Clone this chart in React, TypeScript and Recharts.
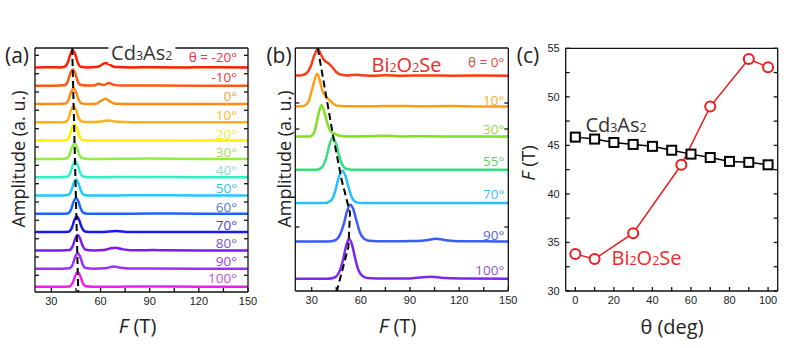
import React from 'react';
import { LineChart, Line, XAxis, YAxis, ReferenceDot } from 'recharts';

const SANS = '"Open Sans", "Noto Sans", sans-serif';
const ARIAL = '"Liberation Sans", Arial, sans-serif';

// ---- panel (a): Cd3As2 FFT spectra, [F (T), amplitude] per angle ----
const cdAngles = ['θ = -20°', '-10°', '0°', '10°', '20°', '30°', '40°', '50°', '60°', '70°', '80°', '90°', '100°'];
const cdOffsets = [22.44, 20.61, 18.78, 16.95, 15.12, 13.29, 11.46, 9.63, 7.8, 5.97, 4.14, 2.31, 0.5];
const cdColors = ['#ff1e00', '#ff5a14', '#ff8a14', '#ffb014', '#fff000', '#8fee44', '#2ff0c0', '#22c8ff', '#1a66ff', '#1818f0', '#7a1cf0', '#9b30ff', '#ee1eee'];
const cdLabelColors = ['#ee3344', '#ee3a3a', '#ffa033', '#ffbb22', '#eeee33', '#a8dd66', '#88ddcc', '#33c4ee', '#5577cc', '#4444cc', '#7755cc', '#9944dd', '#bb55cc'];
const cdCurves: number[][][] = [
  [[20, 0.02], [30, 0.03], [35, 0.02], [38, 0.08], [40, 0.5], [41.5, 1.3], [43, 1.73], [44.5, 1.35], [46, 0.55], [48, 0.08], [52, 0.02], [57, 0.05], [60, 0.2], [63, 0.47], [66, 0.25], [69, 0.05], [80, 0.02], [90, 0.04], [110, 0.02], [130, 0.03], [150, 0.02]],
  [[20, 0.02], [32, 0.02], [38, 0.06], [40, 0.45], [41.5, 1.25], [43, 1.65], [44.5, 1.3], [46, 0.5], [48, 0.08], [52, 0.03], [56, 0.05], [59, 0.22], [62, 0.08], [65, 0.3], [68, 0.1], [72, 0.03], [90, 0.03], [120, 0.02], [150, 0.02]],
  [[20, 0.02], [34, 0.02], [38.5, 0.06], [40.5, 0.45], [42, 1.2], [43.5, 1.6], [45, 1.25], [46.5, 0.5], [48.5, 0.08], [52, 0.02], [57, 0.05], [60, 0.3], [63, 0.55], [66, 0.25], [69, 0.05], [80, 0.02], [100, 0.03], [150, 0.02]],
  [[20, 0.02], [34, 0.02], [38.5, 0.06], [40.5, 0.45], [42, 1.25], [43.5, 1.65], [45, 1.3], [46.5, 0.5], [48.5, 0.1], [53, 0.04], [60, 0.1], [65, 0.2], [70, 0.08], [80, 0.03], [100, 0.02], [150, 0.02]],
  [[20, 0.02], [35, 0.02], [39, 0.06], [41, 0.45], [42.5, 1.25], [44, 1.65], [45.5, 1.3], [47, 0.5], [49, 0.08], [53, 0.02], [70, 0.03], [90, 0.04], [120, 0.02], [150, 0.02]],
  [[20, 0.02], [35, 0.02], [39, 0.06], [41, 0.4], [42.5, 1.15], [44, 1.55], [45.5, 1.2], [47, 0.45], [49, 0.08], [53, 0.02], [70, 0.03], [90, 0.06], [120, 0.02], [150, 0.02]],
  [[20, 0.02], [35, 0.02], [39.5, 0.06], [41.5, 0.45], [43, 1.2], [44.5, 1.62], [46, 1.25], [47.5, 0.5], [49.5, 0.08], [54, 0.02], [70, 0.03], [90, 0.05], [120, 0.02], [150, 0.02]],
  [[20, 0.02], [36, 0.02], [40, 0.06], [42, 0.45], [43.5, 1.2], [45, 1.62], [46.5, 1.25], [48, 0.5], [50, 0.08], [54, 0.02], [70, 0.03], [90, 0.05], [120, 0.02], [150, 0.02]],
  [[20, 0.02], [36, 0.02], [40, 0.06], [42, 0.45], [43.5, 1.2], [45, 1.6], [46.5, 1.25], [48, 0.5], [50, 0.08], [54, 0.02], [70, 0.02], [90, 0.05], [120, 0.02], [150, 0.02]],
  [[20, 0.02], [36, 0.02], [40.5, 0.06], [42.5, 0.45], [44, 1.2], [45.5, 1.58], [47, 1.2], [48.5, 0.5], [50.5, 0.08], [55, 0.02], [62, 0.04], [70, 0.12], [76, 0.03], [90, 0.04], [120, 0.02], [150, 0.02]],
  [[20, 0.02], [36, 0.02], [41, 0.06], [43, 0.45], [44.5, 1.15], [46, 1.55], [47.5, 1.2], [49, 0.5], [51, 0.08], [56, 0.02], [62, 0.06], [66, 0.22], [69, 0.28], [73, 0.15], [78, 0.04], [85, 0.03], [92, 0.06], [100, 0.03], [120, 0.02], [150, 0.02]],
  [[20, 0.02], [36, 0.02], [41, 0.06], [43, 0.45], [44.5, 1.2], [46, 1.6], [47.5, 1.25], [49, 0.5], [51, 0.08], [56, 0.02], [63, 0.06], [68, 0.25], [72, 0.12], [77, 0.03], [92, 0.04], [120, 0.02], [150, 0.02]],
  [[20, 0.02], [36, 0.02], [41, 0.06], [43, 0.42], [44.5, 1.1], [46, 1.5], [47.5, 1.15], [49, 0.45], [51, 0.07], [56, 0.02], [70, 0.03], [92, 0.05], [120, 0.02], [150, 0.02]],
];
const cdDash = [[42.7, 24.4], [46.4, 0]];

// ---- panel (b): Bi2O2Se FFT spectra ----
const biAngles = ['θ =  0°', '10°', '30°', '55°', '70°', '90°', '100°'];
const biOffsets = [21.5, 18.43, 15.43, 12.1, 8.77, 4.93, 1.2];
const biColors = ['#ff3a14', '#ff9e14', '#80e020', '#33e07a', '#26bfff', '#3a5cff', '#7a28f0'];
const biLabelColors = ['#ee4444', '#ffaa33', '#99dd33', '#66cc66', '#44bbee', '#5566cc', '#8855cc'];
const biCurves: number[][][] = [
  [[20, 0.05], [24, 0.08], [27, 0.3], [29.5, 1.0], [31.5, 2.0], [33.8, 2.7], [35.5, 2.2], [37.5, 1.6], [40, 1.3], [42.5, 0.9], [45, 0.4], [48, 0.12], [52, 0.06], [58, 0.12], [63, 0.04], [68, 0.02], [75, 0.08], [85, 0.03], [100, 0.05], [115, 0.03], [130, 0.04], [150, 0.02]],
  [[20, 0.03], [25, 0.08], [28, 0.5], [30.5, 1.9], [33.3, 3.3], [35, 2.6], [36.5, 1.6], [38.5, 1.05], [41, 0.65], [43.5, 0.25], [47, 0.06], [55, 0.04], [70, 0.05], [80, 0.08], [95, 0.04], [115, 0.06], [130, 0.03], [150, 0.02]],
  [[20, 0.02], [29, 0.03], [31.5, 0.4], [33.5, 1.8], [36, 3.17], [38, 2.3], [40, 1.1], [42, 0.45], [44, 0.3], [47, 0.1], [52, 0.03], [65, 0.04], [73, 0.1], [85, 0.03], [100, 0.04], [120, 0.02], [150, 0.02]],
  [[20, 0.02], [33, 0.02], [36.5, 0.3], [39, 1.3], [41, 2.6], [42.5, 3.17], [44.5, 2.8], [46.5, 1.6], [48.5, 0.6], [51, 0.12], [55, 0.02], [80, 0.03], [110, 0.02], [150, 0.02]],
  [[20, 0.02], [38, 0.02], [42, 0.3], [44.5, 1.3], [46.5, 2.6], [48.5, 3.26], [50.5, 2.8], [52.5, 1.6], [54.5, 0.6], [57, 0.12], [61, 0.02], [90, 0.02], [150, 0.02]],
  [[20, 0.02], [40, 0.03], [44, 0.12], [47, 0.6], [49.5, 1.7], [51.5, 3.0], [53.5, 3.7], [55.5, 3.2], [57.5, 2.0], [59.5, 0.9], [62, 0.3], [65, 0.1], [75, 0.05], [90, 0.06], [100, 0.15], [106, 0.3], [112, 0.15], [120, 0.05], [135, 0.04], [150, 0.02]],
  [[20, 0.02], [40, 0.03], [44, 0.15], [46.5, 0.6], [49, 1.8], [51, 3.3], [52.8, 4.0], [54.5, 3.5], [56.5, 2.1], [58.5, 0.9], [61, 0.3], [64, 0.1], [75, 0.04], [90, 0.06], [103, 0.22], [112, 0.1], [125, 0.05], [150, 0.03]],
];
const biDash = [[33.7, 24.3], [43.2, 15.4], [48.3, 11.1], [53.4, 7.8], [52.4, 4.4], [45.4, 0]];

// ---- panel (c): F vs theta ----
const cdTheta = [0, 10, 20, 30, 40, 50, 60, 70, 80, 90, 100];
const cdF = [45.85, 45.65, 45.3, 45.1, 44.9, 44.5, 44.1, 43.75, 43.35, 43.25, 43.0];
const biTheta = [0, 10, 30, 55, 70, 90, 100];
const biF = [33.8, 33.3, 35.95, 43.0, 49.0, 53.9, 53.05];

const fTicks = [30, 45, 60, 75, 90, 105, 120, 135, 150];
const fLabels = [30, 60, 90, 120, 150];
const thetaTicks = [0, 10, 20, 30, 40, 50, 60, 70, 80, 90, 100];
const FTicks = [30, 32.5, 35, 37.5, 40, 42.5, 45, 47.5, 50, 52.5, 55];

const tickStyle = { fill: '#222', fontSize: 11, fontFamily: ARIAL };
const frame = { stroke: '#111', strokeWidth: 1.3 };
const blank = () => '';

const Sub = ({ children }: any) => <span style={{ fontSize: '0.62em', verticalAlign: '-0.04em' }}>{children}</span>;
const CdAs = () => <>Cd<Sub>3</Sub>As<Sub>2</Sub></>;
const BiOSe = () => <>Bi<Sub>2</Sub>O<Sub>2</Sub>Se</>;

function Txt({ x, y, size, color = '#222', rotate, align = 'center', bg, children }: any) {
  const tx = align === 'right' ? '-100%' : '-50%';
  return (
    <div
      style={{
        position: 'absolute', left: x, top: y, fontSize: size, color, fontFamily: SANS,
        lineHeight: 1, whiteSpace: 'nowrap', background: bg, padding: bg ? '1px 3px' : 0,
        transform: `translate(${tx}, -50%)${rotate ? ` rotate(${rotate}deg)` : ''}`,
      }}
    >
      {children}
    </div>
  );
}

// plot box: left/top/right/bottom in chart pixels; axes take fixed room so margins are simple
function Waterfall({ curves, offsets, colors, labels, labelColors, lifts, dash, yMax, yTicks, box, labelGap }: any) {
  const series = curves.map((pts: number[][], i: number) => pts.map(([f, a]) => ({ f, y: offsets[i] + a })));
  const dashData = dash.map(([f, y]: number[]) => ({ f, y }));
  const margin = { top: box.top - 10, right: 260 - box.right - 10, bottom: 348 - box.bottom - 20, left: box.left - 20 };
  return (
    <LineChart width={260} height={348} margin={margin}>
      <XAxis dataKey="f" type="number" domain={[20, 150]} ticks={fTicks} allowDataOverflow
        tickFormatter={(v) => (fLabels.includes(v) ? String(v) : '')}
        tick={tickStyle} tickSize={-4} tickMargin={9} axisLine={frame} tickLine={frame} height={20} />
      <XAxis xAxisId="top" orientation="top" type="number" domain={[20, 150]} ticks={fLabels} allowDataOverflow
        tickFormatter={blank} tick={tickStyle} tickSize={-4} axisLine={frame} tickLine={frame} height={10} />
      <YAxis type="number" domain={[0, yMax]} ticks={yTicks} allowDataOverflow tickFormatter={blank} tick={tickStyle}
        tickSize={-4} axisLine={frame} tickLine={frame} width={20} />
      <YAxis yAxisId="right" orientation="right" type="number" domain={[0, yMax]} ticks={yTicks} allowDataOverflow
        tickFormatter={blank} tick={tickStyle} tickSize={-4} axisLine={frame} tickLine={frame} width={10} />
      {series.map((d: any, i: number) => (
        <Line key={i} data={d} dataKey="y" type="monotone" stroke={colors[i]} strokeWidth={2.5}
          dot={false} isAnimationActive={false} />
      ))}
      <Line data={dashData} dataKey="y" type="linear" stroke="#000" strokeWidth={2}
        strokeDasharray="7 4" dot={false} isAnimationActive={false} />
      {labels.map((t: string, i: number) => (
        <ReferenceDot key={t} x={150} y={offsets[i] + lifts[i]} r={0} fill="none" stroke="none"
          label={{ value: t, position: 'left', offset: labelGap, fill: labelColors[i], fontSize: 13.5, fontFamily: SANS }} />
      ))}
    </LineChart>
  );
}

const squareDot = (p: any) => (
  <rect key={`sq-${p.index}`} x={p.cx - 4.5} y={p.cy - 4.5} width={9} height={9} fill="#fff" stroke="#000" strokeWidth={2} />
);

export default function App() {
  const cdLine = cdTheta.map((t, i) => ({ t, F: cdF[i] }));
  const biLine = biTheta.map((t, i) => ({ t, F: biF[i] }));
  const cdYTicks = [1.67, 3.5, 5.33, 7.17, 9.0, 10.83, 12.67, 14.5, 16.33, 18.17, 20.0, 21.83, 23.67];
  const biYTicks = [6.4, 16.2, 18.8];

  return (
    <div style={{ position: 'absolute', left: 0, top: 0, width: 789, height: 348, background: '#fff', overflow: 'hidden' }}>
      <div style={{ position: 'absolute', left: 0, top: 0 }}>
        <Waterfall curves={cdCurves} offsets={cdOffsets} colors={cdColors} labels={cdAngles} labelColors={cdLabelColors}
          lifts={[1.06, 0.85, 0.75, 0.72, 0.68, 0.68, 0.7, 0.72, 0.72, 0.72, 0.72, 0.72, 0.84]}
          dash={cdDash} yMax={24.4} yTicks={cdYTicks} box={{ left: 35, top: 48, right: 248, bottom: 292 }} labelGap={11} />
      </div>
      <div style={{ position: 'absolute', left: 260, top: 0 }}>
        <Waterfall curves={biCurves} offsets={biOffsets} colors={biColors} labels={biAngles} labelColors={biLabelColors}
          lifts={[1.37, 0.67, 0.74, 0.83, 0.9, 0.67, 0.9]}
          dash={biDash} yMax={24.3} yTicks={biYTicks} box={{ left: 35.3, top: 48, right: 248.3, bottom: 291 }} labelGap={4} />
      </div>
      <div style={{ position: 'absolute', left: 520, top: 0 }}>
        <LineChart width={269} height={348} margin={{ top: 38.3, right: 1.3, bottom: 37, left: 15.7 }}>
          <XAxis dataKey="t" type="number" domain={[-5, 105]} ticks={thetaTicks} allowDataOverflow
            tickFormatter={(v) => (v % 20 === 0 ? String(v) : '')}
            tick={tickStyle} tickSize={-4} tickMargin={9} axisLine={frame} tickLine={frame} height={20} />
          <XAxis xAxisId="top" orientation="top" type="number" domain={[-5, 105]} ticks={thetaTicks} allowDataOverflow
            tickFormatter={blank} tick={tickStyle} tickSize={-4} axisLine={frame} tickLine={frame} height={10} />
          <YAxis type="number" domain={[30, 55]} ticks={FTicks} allowDataOverflow
            tickFormatter={(v) => (v % 5 === 0 ? String(v) : '')}
            tick={tickStyle} tickSize={-4} tickMargin={10} axisLine={frame} tickLine={frame} width={30} />
          <YAxis yAxisId="right" orientation="right" type="number" domain={[30, 55]} ticks={FTicks} allowDataOverflow
            tickFormatter={blank} tick={tickStyle} tickSize={-4} axisLine={frame} tickLine={frame} width={10} />
          <Line data={cdLine} dataKey="F" type="linear" stroke="#000" strokeWidth={1.5}
            dot={squareDot} isAnimationActive={false} />
          <Line data={biLine} dataKey="F" type="linear" stroke="#ee1c1c" strokeWidth={1.5}
            dot={{ r: 5, fill: '#fff', stroke: '#ee1c1c', strokeWidth: 2 }} isAnimationActive={false} />
        </LineChart>
      </div>

      <Txt x={17} y={55} size={21}>(a)</Txt>
      <Txt x={279} y={55} size={21}>(b)</Txt>
      <Txt x={528} y={55} size={21}>(c)</Txt>

      <Txt x={17.5} y={159} size={18} rotate={-90}>Amplitude (a. u.)</Txt>
      <Txt x={283.5} y={159} size={18} rotate={-90}>Amplitude (a. u.)</Txt>
      <Txt x={528} y={163} size={19} rotate={-90}><i>F</i>&nbsp;(T)</Txt>

      <Txt x={137.5} y={326} size={20}><i>F</i>&nbsp;(T)</Txt>
      <Txt x={397.5} y={326} size={20}><i>F</i>&nbsp;(T)</Txt>
      <Txt x={672} y={327} size={20}>θ (deg)</Txt>

      <Txt x={141.7} y={53} size={20} color="#333" bg="#fff"><CdAs /></Txt>
      <Txt x={406.5} y={65} size={20} color="#ee2a2a"><BiOSe /></Txt>
      <Txt x={616} y={125} size={20} color="#333"><CdAs /></Txt>
      <Txt x={646.5} y={258} size={20} color="#ee2a2a"><BiOSe /></Txt>
    </div>
  );
}
